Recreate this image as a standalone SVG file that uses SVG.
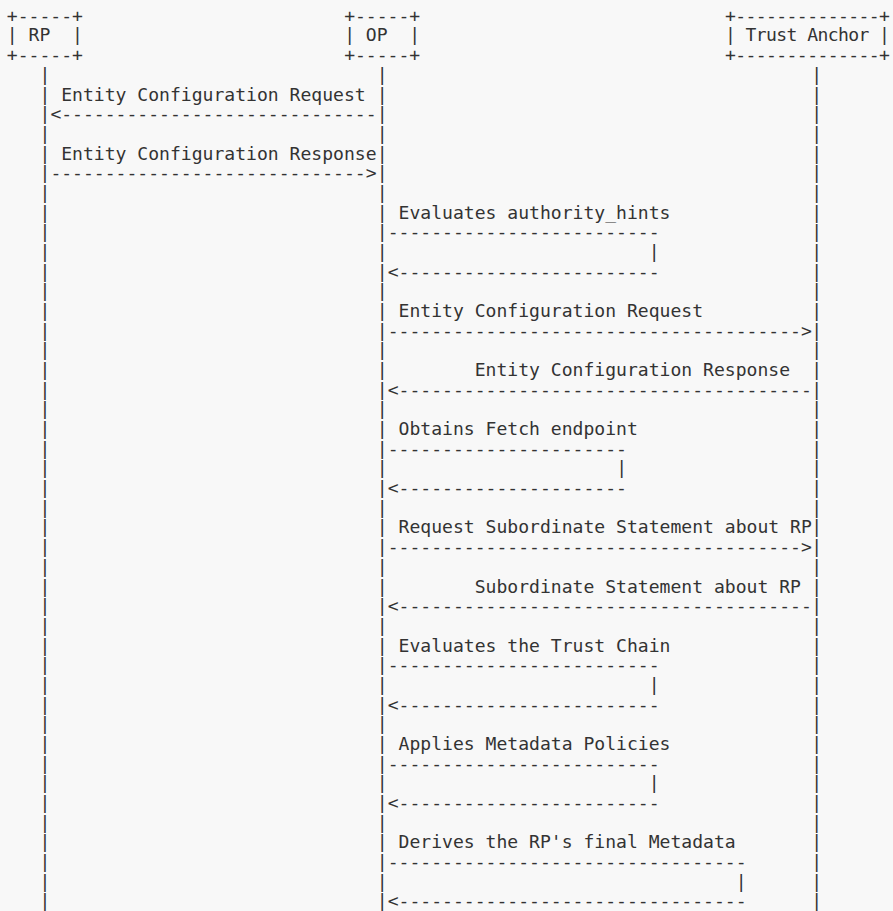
<svg xmlns="http://www.w3.org/2000/svg" width="893" height="911" viewBox="0 0 893 911">
<style>
.t{font-family:"DejaVu Sans Mono","Liberation Mono",monospace;font-size:18.07px;fill:#333;white-space:pre}
.m{text-anchor:middle}
</style>
<rect x="0" y="0" width="893" height="911" fill="#f8f8f8"/>
<g id="rp">
<text class="t" x="6.86" y="21.8" xml:space="preserve">+-----+</text>
<text class="t" x="6.86" y="41.48" xml:space="preserve">| RP  |</text>
<text class="t" x="6.86" y="61.16" xml:space="preserve">+-----+</text>
</g>
<g id="op">
<text class="t" x="344.14" y="21.8" xml:space="preserve">+-----+</text>
<text class="t" x="344.14" y="41.48" xml:space="preserve">| OP  |</text>
<text class="t" x="344.14" y="61.16" xml:space="preserve">+-----+</text>
</g>
<g id="trust-anchor">
<text class="t" x="724.94" y="21.8" textLength="165" lengthAdjust="spacing" xml:space="preserve">+--------------+</text>
<text class="t" x="724.94" y="41.48" textLength="165" lengthAdjust="spacing" xml:space="preserve">| Trust Anchor |</text>
<text class="t" x="724.94" y="61.16" textLength="165" lengthAdjust="spacing" xml:space="preserve">+--------------+</text>
</g>
<g id="connectors">
<g id="lifelines">
<text class="t m" y="61.16"><tspan x="44.94" dy="19.68">|</tspan><tspan x="44.94" dy="19.68">|</tspan><tspan x="44.94" dy="19.68">|</tspan><tspan x="44.94" dy="19.68">|</tspan><tspan x="44.94" dy="19.68">|</tspan><tspan x="44.94" dy="19.68">|</tspan><tspan x="44.94" dy="19.68">|</tspan><tspan x="44.94" dy="19.68">|</tspan><tspan x="44.94" dy="19.68">|</tspan><tspan x="44.94" dy="19.68">|</tspan><tspan x="44.94" dy="19.68">|</tspan><tspan x="44.94" dy="19.68">|</tspan><tspan x="44.94" dy="19.68">|</tspan><tspan x="44.94" dy="19.68">|</tspan><tspan x="44.94" dy="19.68">|</tspan><tspan x="44.94" dy="19.68">|</tspan><tspan x="44.94" dy="19.68">|</tspan><tspan x="44.94" dy="19.68">|</tspan><tspan x="44.94" dy="19.68">|</tspan><tspan x="44.94" dy="19.68">|</tspan><tspan x="44.94" dy="19.68">|</tspan><tspan x="44.94" dy="19.68">|</tspan><tspan x="44.94" dy="19.68">|</tspan><tspan x="44.94" dy="19.68">|</tspan><tspan x="44.94" dy="19.68">|</tspan><tspan x="44.94" dy="19.68">|</tspan><tspan x="44.94" dy="19.68">|</tspan><tspan x="44.94" dy="19.68">|</tspan><tspan x="44.94" dy="19.68">|</tspan><tspan x="44.94" dy="19.68">|</tspan><tspan x="44.94" dy="19.68">|</tspan><tspan x="44.94" dy="19.68">|</tspan><tspan x="44.94" dy="19.68">|</tspan><tspan x="44.94" dy="19.68">|</tspan><tspan x="44.94" dy="19.68">|</tspan><tspan x="44.94" dy="19.68">|</tspan><tspan x="44.94" dy="19.68">|</tspan><tspan x="44.94" dy="19.68">|</tspan><tspan x="44.94" dy="19.68">|</tspan><tspan x="44.94" dy="19.68">|</tspan><tspan x="44.94" dy="19.68">|</tspan><tspan x="44.94" dy="19.68">|</tspan><tspan x="44.94" dy="19.68">|</tspan></text>
<text class="t m" y="61.16"><tspan x="382.22" dy="19.68">|</tspan><tspan x="382.22" dy="19.68">|</tspan><tspan x="382.22" dy="19.68">|</tspan><tspan x="382.22" dy="19.68">|</tspan><tspan x="382.22" dy="19.68">|</tspan><tspan x="382.22" dy="19.68">|</tspan><tspan x="382.22" dy="19.68">|</tspan><tspan x="382.22" dy="19.68">|</tspan><tspan x="382.22" dy="19.68">|</tspan><tspan x="382.22" dy="19.68">|</tspan><tspan x="382.22" dy="19.68">|</tspan><tspan x="382.22" dy="19.68">|</tspan><tspan x="382.22" dy="19.68">|</tspan><tspan x="382.22" dy="19.68">|</tspan><tspan x="382.22" dy="19.68">|</tspan><tspan x="382.22" dy="19.68">|</tspan><tspan x="382.22" dy="19.68">|</tspan><tspan x="382.22" dy="19.68">|</tspan><tspan x="382.22" dy="19.68">|</tspan><tspan x="382.22" dy="19.68">|</tspan><tspan x="382.22" dy="19.68">|</tspan><tspan x="382.22" dy="19.68">|</tspan><tspan x="382.22" dy="19.68">|</tspan><tspan x="382.22" dy="19.68">|</tspan><tspan x="382.22" dy="19.68">|</tspan><tspan x="382.22" dy="19.68">|</tspan><tspan x="382.22" dy="19.68">|</tspan><tspan x="382.22" dy="19.68">|</tspan><tspan x="382.22" dy="19.68">|</tspan><tspan x="382.22" dy="19.68">|</tspan><tspan x="382.22" dy="19.68">|</tspan><tspan x="382.22" dy="19.68">|</tspan><tspan x="382.22" dy="19.68">|</tspan><tspan x="382.22" dy="19.68">|</tspan><tspan x="382.22" dy="19.68">|</tspan><tspan x="382.22" dy="19.68">|</tspan><tspan x="382.22" dy="19.68">|</tspan><tspan x="382.22" dy="19.68">|</tspan><tspan x="382.22" dy="19.68">|</tspan><tspan x="382.22" dy="19.68">|</tspan><tspan x="382.22" dy="19.68">|</tspan><tspan x="382.22" dy="19.68">|</tspan><tspan x="382.22" dy="19.68">|</tspan></text>
<text class="t m" y="61.16"><tspan x="816.6" dy="19.68">|</tspan><tspan x="816.6" dy="19.68">|</tspan><tspan x="816.6" dy="19.68">|</tspan><tspan x="816.6" dy="19.68">|</tspan><tspan x="816.6" dy="19.68">|</tspan><tspan x="816.6" dy="19.68">|</tspan><tspan x="816.6" dy="19.68">|</tspan><tspan x="816.6" dy="19.68">|</tspan><tspan x="816.6" dy="19.68">|</tspan><tspan x="816.6" dy="19.68">|</tspan><tspan x="816.6" dy="19.68">|</tspan><tspan x="816.6" dy="19.68">|</tspan><tspan x="816.6" dy="19.68">|</tspan><tspan x="816.6" dy="19.68">|</tspan><tspan x="816.6" dy="19.68">|</tspan><tspan x="816.6" dy="19.68">|</tspan><tspan x="816.6" dy="19.68">|</tspan><tspan x="816.6" dy="19.68">|</tspan><tspan x="816.6" dy="19.68">|</tspan><tspan x="816.6" dy="19.68">|</tspan><tspan x="816.6" dy="19.68">|</tspan><tspan x="816.6" dy="19.68">|</tspan><tspan x="816.6" dy="19.68">|</tspan><tspan x="816.6" dy="19.68">|</tspan><tspan x="816.6" dy="19.68">|</tspan><tspan x="816.6" dy="19.68">|</tspan><tspan x="816.6" dy="19.68">|</tspan><tspan x="816.6" dy="19.68">|</tspan><tspan x="816.6" dy="19.68">|</tspan><tspan x="816.6" dy="19.68">|</tspan><tspan x="816.6" dy="19.68">|</tspan><tspan x="816.6" dy="19.68">|</tspan><tspan x="816.6" dy="19.68">|</tspan><tspan x="816.6" dy="19.68">|</tspan><tspan x="816.6" dy="19.68">|</tspan><tspan x="816.6" dy="19.68">|</tspan><tspan x="816.6" dy="19.68">|</tspan><tspan x="816.6" dy="19.68">|</tspan><tspan x="816.6" dy="19.68">|</tspan><tspan x="816.6" dy="19.68">|</tspan><tspan x="816.6" dy="19.68">|</tspan><tspan x="816.6" dy="19.68">|</tspan><tspan x="816.6" dy="19.68">|</tspan></text>
</g>
<g id="msg-rp-op">
<text class="t" x="61.26" y="100.52">Entity Configuration Request</text>
<text class="t" x="50.38" y="120.2">&lt;-----------------------------</text>
<text class="t" x="61.26" y="159.56">Entity Configuration Response</text>
<text class="t" x="50.38" y="179.24">-----------------------------&gt;</text>
</g>
<g id="self-authority-hints">
<text class="t" x="398.54" y="218.6">Evaluates authority_hints</text>
<text class="t" x="387.66" y="238.28">-------------------------</text>
<text class="t m" x="654.22" y="257.96">|</text>
<text class="t" x="387.66" y="277.64">&lt;------------------------</text>
</g>
<g id="msg-op-ta-ec">
<text class="t" x="398.54" y="317">Entity Configuration Request</text>
<text class="t" x="387.66" y="336.68">--------------------------------------&gt;</text>
<text class="t" x="474.7" y="376.04">Entity Configuration Response</text>
<text class="t" x="387.66" y="395.72">&lt;--------------------------------------</text>
</g>
<g id="self-fetch-endpoint">
<text class="t" x="398.54" y="435.08">Obtains Fetch endpoint</text>
<text class="t" x="387.66" y="454.76">----------------------</text>
<text class="t m" x="621.58" y="474.44">|</text>
<text class="t" x="387.66" y="494.12">&lt;---------------------</text>
</g>
<g id="msg-op-ta-sub">
<text class="t" x="398.54" y="533.48">Request Subordinate Statement about RP</text>
<text class="t" x="387.66" y="553.16">--------------------------------------&gt;</text>
<text class="t" x="474.7" y="592.52">Subordinate Statement about RP</text>
<text class="t" x="387.66" y="612.2">&lt;--------------------------------------</text>
</g>
<g id="self-trust-chain">
<text class="t" x="398.54" y="651.56">Evaluates the Trust Chain</text>
<text class="t" x="387.66" y="671.24">-------------------------</text>
<text class="t m" x="654.22" y="690.92">|</text>
<text class="t" x="387.66" y="710.6">&lt;------------------------</text>
</g>
<g id="self-metadata-policies">
<text class="t" x="398.54" y="749.96">Applies Metadata Policies</text>
<text class="t" x="387.66" y="769.64">-------------------------</text>
<text class="t m" x="654.22" y="789.32">|</text>
<text class="t" x="387.66" y="809">&lt;------------------------</text>
</g>
<g id="self-final-metadata">
<text class="t" x="398.54" y="848.36">Derives the RP's final Metadata</text>
<text class="t" x="387.66" y="868.04">---------------------------------</text>
<text class="t m" x="741.26" y="887.72">|</text>
<text class="t" x="387.66" y="907.4">&lt;--------------------------------</text>
</g>
</g>
</svg>
